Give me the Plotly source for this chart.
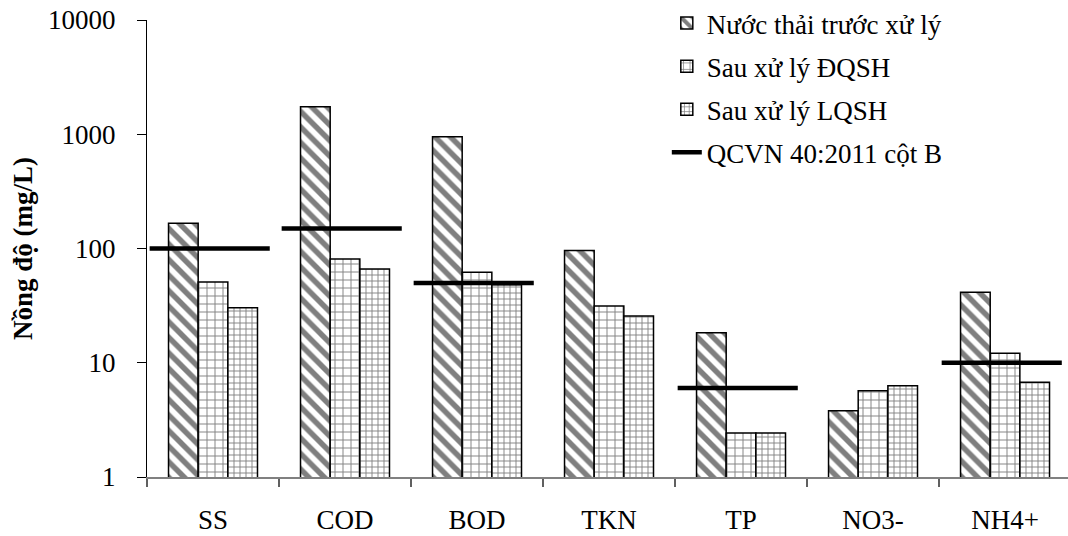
import plotly.graph_objects as go

categories = ["SS", "COD", "BOD", "TKN", "TP", "NO3-", "NH4+"]
truoc_xu_ly = [166, 1740, 950, 96, 18.3, 3.8, 41.4]
sau_dqsh = [51, 81, 62, 31.4, 2.43, 5.7, 12.1]
sau_lqsh = [30.3, 66, 48.2, 25.7, 2.43, 6.3, 6.75]
qcvn = [100, 150, 50, None, 6, None, 10]
y_ticks = [1, 10, 100, 1000, 10000]

series_names = ["Nước thải trước xử lý", "Sau xử lý ĐQSH", "Sau xử lý LQSH", "QCVN 40:2011 cột B"]

FONT = "Liberation Serif, Times New Roman, serif"
xs = list(range(len(categories)))

fig = go.Figure()

patterns = [
    dict(shape="\\", size=11, solidity=0.5, fgcolor="black", bgcolor="white", fillmode="overlay"),
    dict(shape="+", size=8, solidity=0.22, fgcolor="black", bgcolor="white", fillmode="overlay"),
    dict(shape="+", size=6, solidity=0.28, fgcolor="black", bgcolor="white", fillmode="overlay"),
]
for k, (vals, name) in enumerate(zip([truoc_xu_ly, sau_dqsh, sau_lqsh], series_names[:3])):
    fig.add_trace(go.Bar(
        x=xs, y=vals, name=name, legendgroup=f"g{k}",
        marker=dict(color="white", pattern=patterns[k], line=dict(color="black", width=1.5)),
    ))

lx, ly = [], []
for i, v in enumerate(qcvn):
    if v is not None:
        lx += [i - 0.48, i + 0.43, None]
        ly += [v, v, None]
fig.add_trace(go.Scatter(
    x=lx, y=ly, mode="lines", name=series_names[3], legendgroup="g3",
    line=dict(color="black", width=4.5), connectgaps=False,
))

fig.update_layout(
    width=1068, height=536,
    margin=dict(l=147, r=0, t=20, b=59, autoexpand=False),
    paper_bgcolor="white", plot_bgcolor="white",
    font=dict(family=FONT, size=27, color="black"),
    barmode="group", bargap=0.326, bargroupgap=0,
    showlegend=True,
    legend=dict(x=0.5644, xanchor="left", yref="paper", y=1.046, yanchor="top",
                bgcolor="rgba(0,0,0,0)", font=dict(family=FONT, size=27),
                tracegroupgap=5, itemwidth=30),
)
fig.update_xaxes(
    type="linear", range=[-0.5, 6.477],
    tickmode="array", tickvals=xs, ticktext=categories,
    ticks="", showgrid=False, zeroline=False,
    showline=True, linecolor="#808080", linewidth=1.5,
    ticklabelstandoff=18,
    minor=dict(tickmode="array", tickvals=[i - 0.5 for i in range(len(categories) + 1)],
               ticks="outside", ticklen=8, tickcolor="#606060", tickwidth=1.5, showgrid=False),
)
fig.update_yaxes(
    type="log", range=[0, 4],
    tickmode="array", tickvals=y_ticks, ticktext=[str(t) for t in y_ticks],
    ticks="outside", ticklen=9, tickcolor="black", tickwidth=1,
    showgrid=False, zeroline=False,
    showline=True, linecolor="black", linewidth=1,
    ticklabelstandoff=16, ticklabeloverflow="allow",
    title=dict(text="<b>Nồng độ (mg/L)</b>", font=dict(family=FONT, size=27), standoff=7),
)

fig.write_html(
    "out.html",
    config={"displayModeBar": False},
    post_script="document.documentElement.style.margin='0';document.body.style.margin='0';"
                "document.body.style.overflow='hidden';",
)
